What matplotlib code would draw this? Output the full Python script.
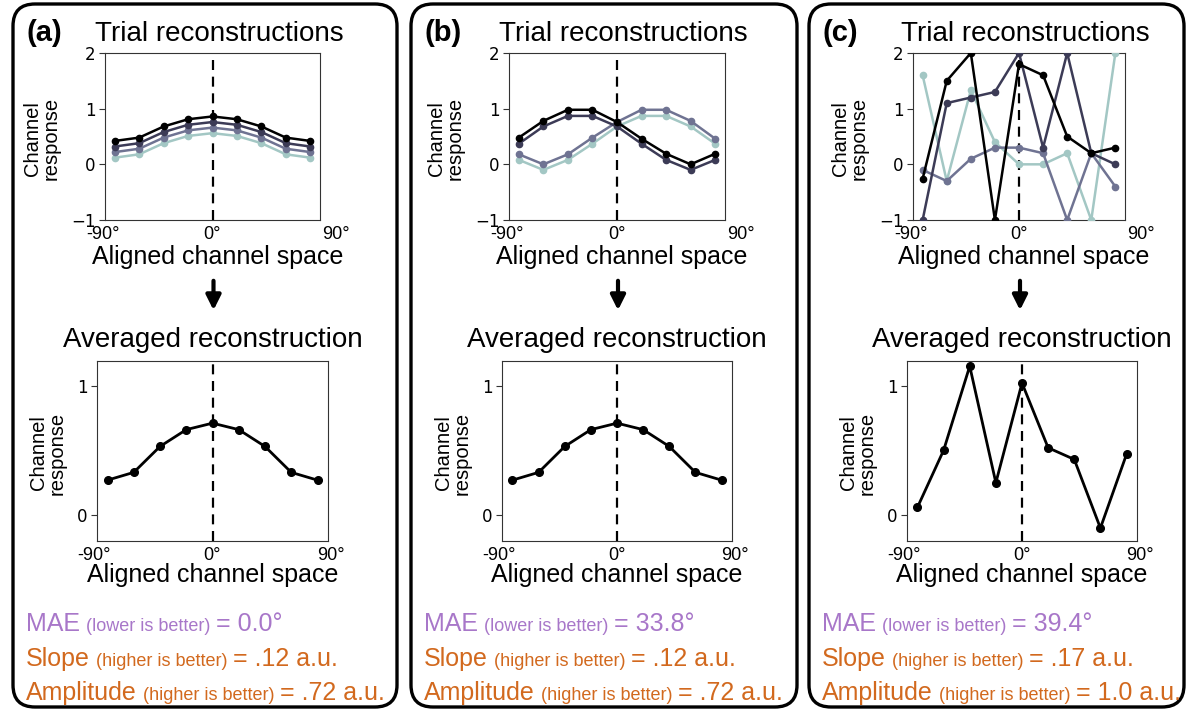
import matplotlib
matplotlib.use('Agg')
import matplotlib.pyplot as plt
from matplotlib.patches import FancyBboxPatch, FancyArrowPatch
from matplotlib.transforms import IdentityTransform

plt.rcParams['font.family'] = ['Liberation Sans', 'DejaVu Sans']

W, H = 1188, 709

# ---- data ----
channels = [-80, -60, -40, -20, 0, 20, 40, 60, 80]
panel_labels = ['(a)', '(b)', '(c)']
xtick_labels = ['-90°', '0°', '90°']
xtick_pos = [-90, 0, 90]

# four trials per panel: black, navy, slate, teal
trials_a = [
    [0.42, 0.48, 0.68, 0.81, 0.86, 0.81, 0.68, 0.48, 0.42],
    [0.32, 0.38, 0.58, 0.71, 0.76, 0.71, 0.58, 0.38, 0.32],
    [0.22, 0.28, 0.48, 0.61, 0.66, 0.61, 0.48, 0.28, 0.22],
    [0.12, 0.18, 0.38, 0.51, 0.56, 0.51, 0.38, 0.18, 0.12],
]
trials_b = [
    [0.48, 0.78, 0.98, 0.98, 0.76, 0.46, 0.19, 0.00, 0.19],
    [0.37, 0.68, 0.87, 0.87, 0.68, 0.37, 0.08, -0.10, 0.08],
    [0.18, 0.00, 0.18, 0.48, 0.76, 0.98, 0.98, 0.78, 0.46],
    [0.08, -0.10, 0.08, 0.37, 0.68, 0.87, 0.87, 0.68, 0.37],
]
trials_c = [
    [-0.26, 1.5, 2.0, -1.0, 1.8, 1.6, 0.5, 0.2, 0.3],
    [-1.0, 1.1, 1.2, 1.3, 2.0, 0.3, 2.0, 0.2, 0.0],
    [-0.1, -0.3, 0.1, 0.3, 0.3, 0.2, -1.0, 0.2, -0.4],
    [1.6, -0.3, 1.33, 0.4, 0.0, 0.0, 0.2, -1.0, 2.0],
]
avg_a = [0.27, 0.33, 0.53, 0.66, 0.71, 0.66, 0.53, 0.33, 0.27]
avg_b = [0.27, 0.33, 0.53, 0.66, 0.71, 0.66, 0.53, 0.33, 0.27]
avg_c = [0.06, 0.50, 1.15, 0.25, 1.02, 0.52, 0.43, -0.10, 0.47]

mae_vals = ['0.0°', '33.8°', '39.4°']
slope_vals = ['.12', '.12', '.17']
amp_vals = ['.72', '.72', '1.0']

trials = [trials_a, trials_b, trials_c]
avgs = [avg_a, avg_b, avg_c]

# ---- style / layout (pixels) ----
trial_colors = ['#000000', '#3c3b56', '#6f7392', '#a3c7c4']
mae_color = '#a877c9'
orange = '#d2691e'
spine_col = '#333333'

box_x = [(13, 397), (411, 797), (809, 1184)]
top_ax_x = [(105, 320), (509, 725), (913, 1125)]
bot_ax_x = [(97, 328), (502, 732), (907, 1137)]
top_ax_y = (53, 220)
bot_ax_y = (361, 541)
title_dx = [7, 6, 6]


def fx(px):
    return px / W


def fy(py):
    return 1 - py / H


def make_ax(fig, xs, ys):
    return fig.add_axes([fx(xs[0]), fy(ys[1]), (xs[1] - xs[0]) / W, (ys[1] - ys[0]) / H])


def style_ax(ax, ylim, yticks, right_ha):
    ax.set_xlim(-88, 88)
    ax.set_ylim(*ylim)
    ax.set_xticks([])
    ax.set_yticks(yticks)
    for lab in ax.get_yticklabels():
        lab.set_fontfamily('DejaVu Sans')
    ax.tick_params(axis='y', labelsize=12, length=4, width=0.8, color=spine_col, pad=3)
    for s in ax.spines.values():
        s.set_linewidth(0.8)
        s.set_color(spine_col)
    ax.axvline(0, color='black', lw=1.6, ls=(0, (4.5, 3)), zorder=1)
    for p, lab in zip(xtick_pos, xtick_labels):
        ha = right_ha if p > 0 else 'center'
        ax.annotate(lab, (p, 0), xycoords=('data', 'axes fraction'),
                    xytext=(0, -4), textcoords='offset points',
                    ha=ha, va='top', fontsize=13, annotation_clip=False)


fig = plt.figure(figsize=(W / 100, H / 100), dpi=100)

for i in range(3):
    # rounded panel box
    bx0, bx1 = box_x[i]
    box = FancyBboxPatch((bx0, 2), bx1 - bx0, 703,
                         boxstyle='round,pad=0,rounding_size=22',
                         transform=IdentityTransform(), fill=False,
                         lw=2.4, ec='black')
    fig.add_artist(box)

    # top: trial reconstructions
    ax = make_ax(fig, top_ax_x[i], top_ax_y)
    for k in range(3, -1, -1):
        ax.plot(channels, trials[i][k], color=trial_colors[k], lw=1.8,
                marker='o', ms=4.5, zorder=3)
    style_ax(ax, (-1, 2), [-1, 0, 1, 2], 'left')
    tx0, tx1 = top_ax_x[i]
    tc = (tx0 + tx1) / 2
    fig.text(fx(tc + title_dx[i]), fy(41), 'Trial reconstructions',
             fontsize=20, ha='center', va='baseline')
    fig.text(fx(bx0 + 14), fy(41), panel_labels[i], fontsize=21,
             fontweight='bold', ha='left', va='baseline')
    fig.text(fx(tc + 5), fy(264), 'Aligned channel space',
             fontsize=18, ha='center', va='baseline')
    fig.text(fx(tx0 - 63), fy(sum(top_ax_y) / 2 + 2), 'Channel\nresponse',
             fontsize=14.5, rotation=90, ha='center', va='center',
             multialignment='center', linespacing=0.95)

    # arrow
    arr = FancyArrowPatch((fx(tc + 1), fy(278)), (fx(tc + 1), fy(313)),
                          transform=fig.transFigure, arrowstyle='-|>',
                          mutation_scale=22, lw=3, color='black')
    fig.add_artist(arr)

    # bottom: averaged reconstruction
    ax2 = make_ax(fig, bot_ax_x[i], bot_ax_y)
    ax2.plot(channels, avgs[i], color='black', lw=2, marker='o', ms=5.5, zorder=3)
    style_ax(ax2, (-0.2, 1.19), [0, 1], 'center')
    bx_0, bx_1 = bot_ax_x[i]
    bc = (bx_0 + bx_1) / 2
    fig.text(fx(bc), fy(347), 'Averaged reconstruction',
             fontsize=20, ha='center', va='baseline')
    fig.text(fx(bc), fy(582), 'Aligned channel space',
             fontsize=18, ha='center', va='baseline')
    fig.text(fx(bx_0 - 49), fy(sum(bot_ax_y) / 2 + 2), 'Channel\nresponse',
             fontsize=14.5, rotation=90, ha='center', va='center',
             multialignment='center', linespacing=0.95)

# metric lines, pieces of mixed size laid out one after another
fig.canvas.draw()
rend = fig.canvas.get_renderer()


def run_text(x, y, parts, color):
    for s, size in parts:
        t = fig.text(fx(x), fy(y), s, fontsize=size, color=color,
                     ha='left', va='baseline')
        x += t.get_window_extent(renderer=rend).width + 6


for i in range(3):
    x0 = box_x[i][0] + 13
    run_text(x0, 631, [('MAE', 18), ('(lower is better)', 13),
                       ('= ' + mae_vals[i], 18)], mae_color)
    run_text(x0, 666, [('Slope', 18), ('(higher is better)', 13),
                       ('= ' + slope_vals[i] + ' a.u.', 18)], orange)
    run_text(x0, 700, [('Amplitude', 18), ('(higher is better)', 13),
                       ('= ' + amp_vals[i] + ' a.u.', 18)], orange)

fig.savefig('out.png', dpi=100)
